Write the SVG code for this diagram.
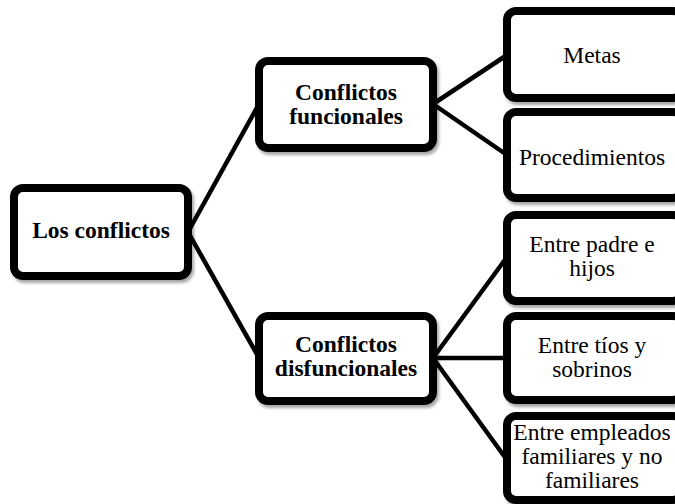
<svg xmlns="http://www.w3.org/2000/svg" width="675" height="504" viewBox="0 0 675 504">
<defs>
<filter id="sh" x="-10%" y="-10%" width="130%" height="130%">
<feDropShadow dx="2" dy="3" stdDeviation="1.5" flood-color="#000" flood-opacity="0.35"/>
</filter>
</defs>
<style>
.box{fill:#fff;stroke:#000;stroke-width:8;filter:url(#sh)}
.c{stroke:#000;stroke-width:4.5;fill:none}
text{font-family:"Liberation Serif","Times New Roman",serif;font-size:23.5px;fill:#000;text-anchor:middle}
.b{font-weight:bold}
</style>
<rect width="675" height="504" fill="#fff"/>
<g id="connectors">
<line class="c" x1="188" y1="232" x2="259" y2="104"/>
<line class="c" x1="188" y1="232" x2="259" y2="358"/>
<line class="c" x1="433" y1="104" x2="507" y2="55"/>
<line class="c" x1="433" y1="104" x2="507" y2="155"/>
<line class="c" x1="433" y1="358" x2="507" y2="257"/>
<line class="c" x1="433" y1="358" x2="507" y2="358"/>
<line class="c" x1="433" y1="358" x2="507" y2="460"/>
</g>
<g id="root">
<rect class="box" x="14" y="188" width="174" height="88" rx="9"/>
<text class="b" x="101" y="238">Los conflictos</text>
</g>
<g id="funcionales">
<rect class="box" x="259" y="61" width="174" height="87" rx="9"/>
<text class="b" x="346" y="100">Conflictos</text>
<text class="b" x="346" y="124">funcionales</text>
</g>
<g id="disfuncionales">
<rect class="box" x="259" y="316" width="174" height="85" rx="9"/>
<text class="b" x="346" y="352">Conflictos</text>
<text class="b" x="346" y="376">disfuncionales</text>
</g>
<g id="metas">
<rect class="box" x="507" y="11" width="175" height="87" rx="9"/>
<text x="592" y="63">Metas</text>
</g>
<g id="procedimientos">
<rect class="box" x="507" y="112" width="175" height="86" rx="9"/>
<text x="592" y="165">Procedimientos</text>
</g>
<g id="padre">
<rect class="box" x="507" y="215" width="175" height="86" rx="9"/>
<text x="592" y="252">Entre padre e</text>
<text x="592" y="276">hijos</text>
</g>
<g id="tios">
<rect class="box" x="507" y="316" width="175" height="84" rx="9"/>
<text x="592" y="353">Entre tíos y</text>
<text x="592" y="377">sobrinos</text>
</g>
<g id="empleados">
<rect class="box" x="507" y="416" width="175" height="84" rx="9"/>
<text x="592" y="440">Entre empleados</text>
<text x="592" y="464">familiares y no</text>
<text x="592" y="488">familiares</text>
</g>
</svg>
